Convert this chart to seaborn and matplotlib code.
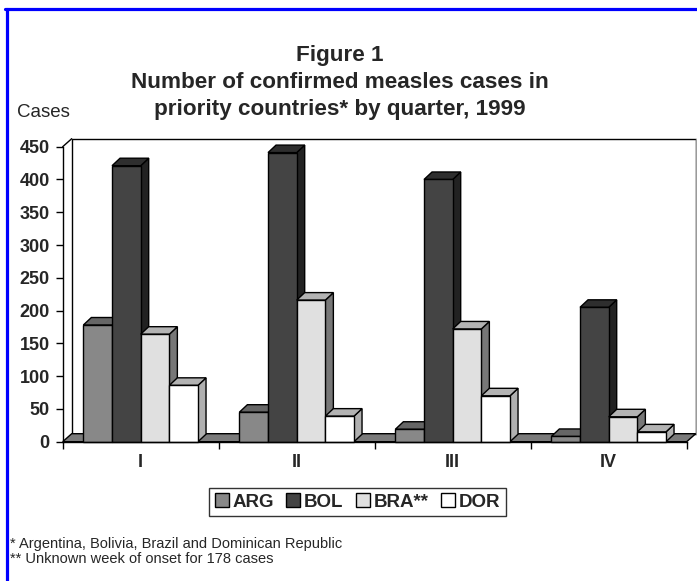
import numpy as np
import pandas as pd
import seaborn as sns
import matplotlib
matplotlib.use("Agg")
import matplotlib.pyplot as plt
from matplotlib.patches import Polygon, Rectangle
from matplotlib.lines import Line2D

# Confirmed measles cases by quarter, 1999
quarters = ["I", "II", "III", "IV"]
countries = ["ARG", "BOL", "BRA**", "DOR"]
arg_cases = [178, 45, 19, 8]
bol_cases = [421, 441, 400, 205]
bra_cases = [164, 216, 172, 38]
dor_cases = [86, 39, 70, 15]

front_colors = ["#888888", "#444444", "#e0e0e0", "#ffffff"]
top_colors = ["#666666", "#2e2e2e", "#b3b3b3", "#b3b3b3"]
side_colors = ["#555555", "#222222", "#777777", "#b0b0b0"]

df = pd.DataFrame({
    "quarter": np.repeat(quarters, len(countries)),
    "country": countries * len(quarters),
    "cases": [v for q in zip(arg_cases, bol_cases, bra_cases, dor_cases) for v in q],
})

sns.set_theme(style="white")
plt.rcParams["font.family"] = ["Liberation Sans", "DejaVu Sans"]

W, H = 697, 581
fig = plt.figure(figsize=(W / 100, H / 100), dpi=100)

# front plane of the plot, in pixels
x_left, x_right = 62.7, 686.7
y_zero, y_top = 441.7, 146.7
ax = fig.add_axes([x_left / W, 1 - y_zero / H, (x_right - x_left) / W, (y_zero - y_top) / H])

sns.barplot(data=df, x="quarter", y="cases", hue="country", order=quarters,
            hue_order=countries, palette=front_colors, width=0.735,
            edgecolor="black", linewidth=1.0, errorbar=None, saturation=1,
            ax=ax)
ax.set_xlim(-0.5, 3.5)
ax.set_ylim(0, 450)

px_x = 4.0 / (x_right - x_left)     # data units per pixel
px_y = 450.0 / (y_zero - y_top)

bars = sorted([p for p in ax.patches if isinstance(p, Rectangle) and p.get_width() > 0],
              key=lambda p: p.get_x())

# back wall and floor of the pseudo-3D box
wdx, wdy = 9 * px_x, 8 * px_y
wall = Polygon([(-0.5 + wdx, wdy), (3.5 + wdx, wdy), (3.5 + wdx, 450 + wdy),
                (-0.5 + wdx, 450 + wdy)], closed=True, facecolor="white",
               edgecolor="black", linewidth=1.0, clip_on=False, zorder=0.5)
ax.add_patch(wall)
ax.plot([3.5 + wdx, 3.5 + wdx], [wdy, 450 + wdy], color="#9a9a9a", lw=1.0,
        clip_on=False, zorder=0.55)
ax.plot([-0.5, -0.5 + wdx], [450, 450 + wdy], color="black", lw=1.0,
        clip_on=False, zorder=0.55)
floor = Polygon([(-0.5, 0), (3.5, 0), (3.5 + wdx, wdy), (-0.5 + wdx, wdy)],
                closed=True, facecolor="#7a7a7a", edgecolor="black",
                linewidth=1.0, clip_on=False, zorder=0.6)
ax.add_patch(floor)

# depth faces of every bar, drawn left to right
bdx, bdy = 8 * px_x, 7.5 * px_y
n_c = len(countries)
for k, p in enumerate(bars):
    x0, w, h = p.get_x(), p.get_width(), p.get_height()
    ci = k % n_c
    z = 2 + k * 0.01
    top = Polygon([(x0, h), (x0 + w, h), (x0 + w + bdx, h + bdy), (x0 + bdx, h + bdy)],
                  closed=True, facecolor=top_colors[ci], edgecolor="black",
                  linewidth=1.0, clip_on=False, zorder=z)
    side = Polygon([(x0 + w, 0), (x0 + w, h), (x0 + w + bdx, h + bdy), (x0 + w + bdx, bdy)],
                   closed=True, facecolor=side_colors[ci], edgecolor="black",
                   linewidth=1.0, clip_on=False, zorder=z)
    ax.add_patch(side)
    ax.add_patch(top)
    p.set_zorder(z + 0.005)
    p.set_clip_on(False)

# axes styling
for s in ("top", "right"):
    ax.spines[s].set_visible(False)
for s in ("left", "bottom"):
    ax.spines[s].set_color("black")
    ax.spines[s].set_linewidth(1.0)
    ax.spines[s].set_zorder(3)
ax.set_yticks(np.arange(0, 451, 50))
ax.tick_params(axis="y", direction="out", length=5, width=1, color="black",
               labelsize=13, pad=4.3, left=True)
ax.tick_params(axis="x", which="major", length=0, labelsize=13, pad=9)
ax.set_xticks(np.arange(-0.5, 3.6, 1.0), minor=True)
ax.tick_params(axis="x", which="minor", direction="out", length=5, width=1,
               color="black", bottom=True)
for lab in ax.get_yticklabels() + ax.get_xticklabels():
    lab.set_fontweight("bold")
ax.set_xlabel("")
ax.set_ylabel("")
ax.grid(False)
ax.patch.set_alpha(0)

# legend
handles, labels = ax.get_legend_handles_labels()
for hnd in handles:
    hnd.set_edgecolor("black")
    hnd.set_linewidth(1.0)
if ax.get_legend() is not None:
    ax.get_legend().remove()
leg = fig.legend(handles, labels, loc="center", bbox_to_anchor=(357.5 / W, 1 - 502 / H),
                 ncol=4, frameon=True, fancybox=False, edgecolor="black",
                 prop={"weight": "bold", "size": 13.5}, handlelength=0.75,
                 handleheight=0.7, handletextpad=0.2, columnspacing=0.65,
                 borderpad=0.3, borderaxespad=0)
leg.get_frame().set_linewidth(1.0)

# titles and notes
title_lines = ["Figure 1", "Number of confirmed measles cases in",
               "priority countries* by quarter, 1999"]
for line, base in zip(title_lines, [61, 88, 115]):
    fig.text(340 / W, 1 - base / H, line, ha="center", va="baseline",
             fontsize=16.2, fontweight="bold")
fig.text(17 / W, 1 - 117 / H, "Cases", ha="left", va="baseline", fontsize=13.5)
fig.text(10 / W, 1 - 548 / H, "* Argentina, Bolivia, Brazil and Dominican Republic",
         ha="left", va="baseline", fontsize=10.5)
fig.text(10 / W, 1 - 563 / H, "** Unknown week of onset for 178 cases",
         ha="left", va="baseline", fontsize=10.5)

# blue frame on top and left
fig.add_artist(Line2D([5 / W, 1], [1 - 8.5 / H, 1 - 8.5 / H], color="#0000ff", lw=2.3,
                      transform=fig.transFigure))
fig.add_artist(Line2D([6.5 / W, 6.5 / W], [0, 1 - 8.5 / H], color="#0000ff", lw=2.3,
                      transform=fig.transFigure))

fig.savefig("out.png", dpi=100, facecolor="white")
